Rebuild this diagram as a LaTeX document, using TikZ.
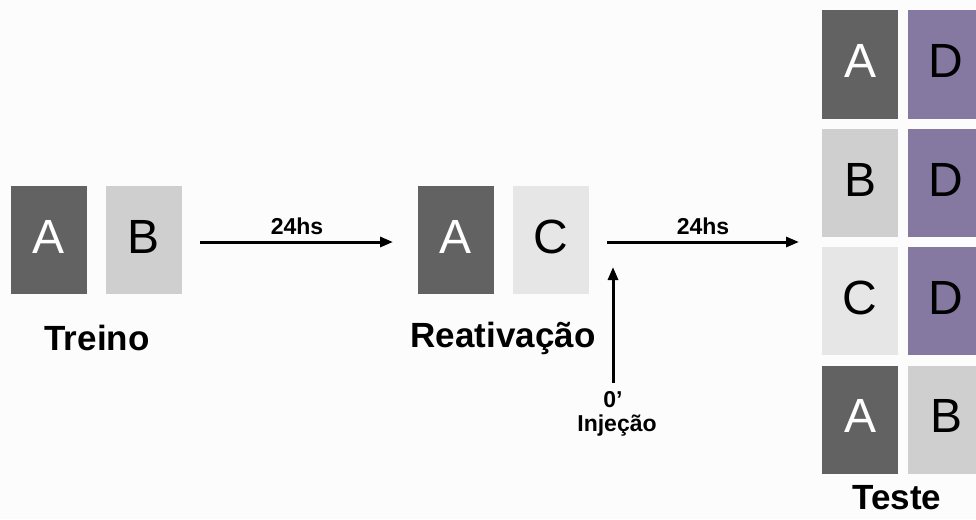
\documentclass[tikz,border=0pt]{standalone}
\usepackage{fontspec}
\setmainfont{Liberation Sans}
\usetikzlibrary{arrows.meta}
\definecolor{dk}{RGB}{98,98,98}
\definecolor{lg}{RGB}{207,207,207}
\definecolor{xl}{RGB}{230,230,230}
\definecolor{pu}{RGB}{133,121,161}
\definecolor{bg}{RGB}{252,252,252}
\tikzset{
  box/.style={minimum width=76pt, minimum height=108pt, inner sep=0pt, font=\fontsize{48}{48}\selectfont, text height=34pt, text depth=8pt},
  boxd/.style={box, fill=dk, text=white},
  boxl/.style={box, fill=lg, text=black},
  boxx/.style={box, fill=xl, text=black},
  boxp/.style={box, fill=pu, text=black},
  title/.style={font=\fontsize{35}{35}\bfseries\selectfont, inner sep=0pt},
  lab/.style={font=\fontsize{23}{23}\bfseries\selectfont, inner sep=0pt},
  labs/.style={font=\fontsize{23}{23}\bfseries\selectfont, inner sep=0pt},
  arr/.style={line width=3pt, -{Triangle[length=13pt, width=10pt]}}
}
\begin{document}
\begin{tikzpicture}[x=1pt, y=-1pt]
\fill[bg] (0,0) rectangle (976,519);
\useasboundingbox (0,0) rectangle (976,519);
\begin{scope}
\clip (0,0) rectangle (976,519);
% Treino
\node[boxd] (t1) at (49,240) {A};
\node[boxl] (t2) at (144,240) {B};
\node[title] (tt) at (97,338) {Treino};
% Reativacao
\node[boxd] (r1) at (456,240) {A};
\node[boxx] (r2) at (551,240) {C};
\node[title] (rt) at (503,338) {Reativação};
% Teste
\node[boxd] (s11) at (860,64.5) {A};
\node[boxp] (s12) at (946,64.5) {D};
\node[boxl] (s21) at (860,183) {B};
\node[boxp] (s22) at (946,183) {D};
\node[boxx] (s31) at (860,301) {C};
\node[boxp] (s32) at (946,301) {D};
\node[boxd] (s41) at (860,419.5) {A};
\node[boxl] (s42) at (946,419.5) {B};
\node[title] (st) at (897,498) {Teste};
\end{scope}
% arrows
\coordinate (a1s) at (200,242);
\coordinate (a1e) at (393,242);
\coordinate (a2s) at (607,242);
\coordinate (a2e) at (799,242);
\coordinate (a3s) at (613,383);
\coordinate (a3e) at (613,267);
\draw[arr] (a1s) -- (a1e);
\draw[arr] (a2s) -- (a2e);
\draw[arr] (a3s) -- (a3e);
\node[lab] (l1) at (297,226) {24hs};
\node[lab] (l2) at (703,226) {24hs};
\node[labs] (z) at (613,400) {0’};
\node[labs] (inj) at (617,426) {Injeção};
\end{tikzpicture}
\end{document}
